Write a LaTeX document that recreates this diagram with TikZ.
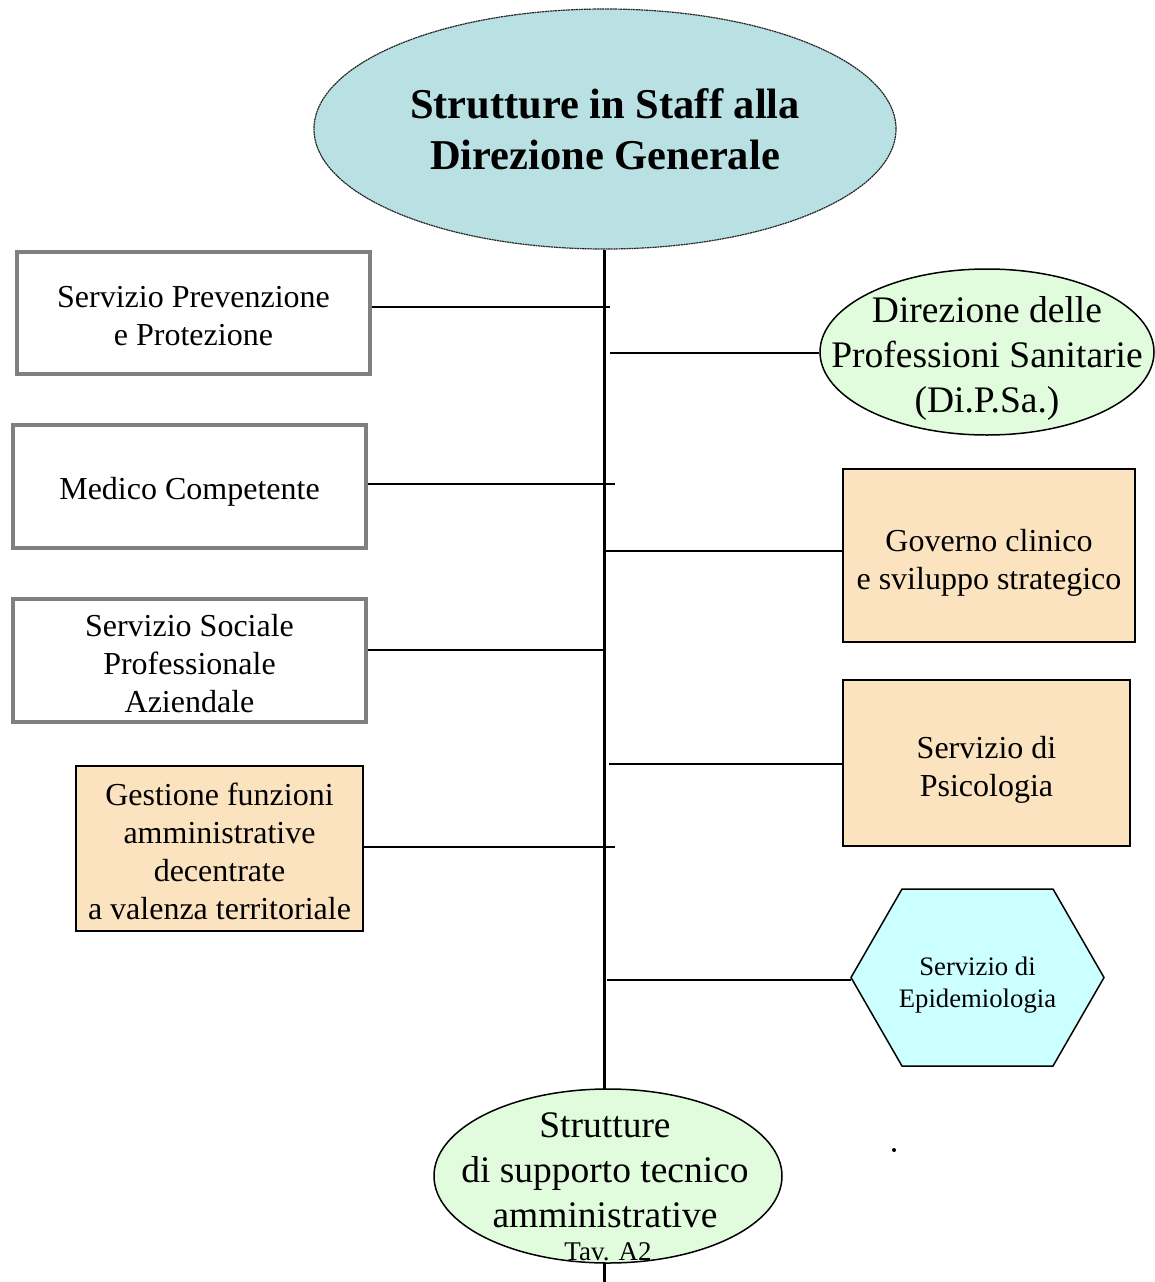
\documentclass[tikz,border=0pt]{standalone}
\usepackage{fontspec}
\setmainfont{Liberation Serif}
\usetikzlibrary{shapes.geometric}
\definecolor{titlefill}{HTML}{B9E0E3}
\definecolor{greenfill}{HTML}{E0FCDC}
\definecolor{peach}{HTML}{FCE3C0}
\definecolor{cyanfill}{HTML}{CCFFFF}
\definecolor{boxgray}{HTML}{808080}
\begin{document}
\begin{tikzpicture}[x=1pt,y=-1pt,
  boxtext/.style={align=center,inner sep=0pt,font=\fontsize{32}{38}\selectfont},
  graybox/.style={draw=boxgray,line width=4pt,fill=white,inner sep=0pt},
  peachbox/.style={draw=black,line width=1.5pt,fill=peach,inner sep=0pt},
  greenell/.style={ellipse,draw=black,line width=1.5pt,fill=greenfill,inner sep=0pt},
  elltext/.style={align=center,inner sep=0pt,font=\fontsize{37.5}{45}\selectfont},
  conn/.style={line width=2pt},
  trunk/.style={line width=3pt}]
\useasboundingbox (0,0) rectangle (1154,1282);
% title
\node[ellipse,draw=black!85,line width=1.2pt,dash pattern=on 2pt off 0.6pt,fill=titlefill,inner sep=0pt,
  minimum width=582pt,minimum height=240pt,
  label={[align=center,inner sep=0pt,font=\fontsize{42.5}{51}\bfseries\selectfont]center:Strutture in Staff alla\\Direzione Generale}]
  (top) at (605,129) {};
\coordinate (tb) at (604,1282);
\draw[trunk] (top.south -| tb) -- (tb);
% left boxes
\node[graybox,minimum width=353pt,minimum height=122pt,
  label={[boxtext,yshift=-3pt]center:Servizio Prevenzione\\e Protezione}] (b1) at (193.5,313) {};
\node[graybox,minimum width=353pt,minimum height=123pt,
  label={[boxtext,yshift=-5pt]center:Medico Competente}] (b2) at (189.5,486.5) {};
\node[graybox,minimum width=353pt,minimum height=123pt,
  label={[boxtext,yshift=-3pt]center:Servizio Sociale\\Professionale\\Aziendale}] (b3) at (189.5,660.5) {};
\node[peachbox,minimum width=287pt,minimum height=165pt,
  label={[boxtext,yshift=-2.5pt]center:Gestione funzioni\\amministrative\\decentrate\\a valenza territoriale}] (b4) at (219.5,848.5) {};
% right nodes
\node[greenell,minimum width=334pt,minimum height=166pt,
  label={[elltext,yshift=-6pt]center:Direzione delle\\Professioni Sanitarie\\(Di.P.Sa.)}] (dipsa) at (987,352) {};
\node[peachbox,minimum width=292pt,minimum height=173pt,
  label={[boxtext,yshift=-7pt]center:Governo clinico\\e sviluppo strategico}] (gov) at (989,555.5) {};
\node[peachbox,minimum width=287pt,minimum height=166pt,
  label={[boxtext,yshift=-7pt]center:Servizio di\\Psicologia}] (psi) at (986.5,763) {};
% hexagon
\coordinate (hexw) at (851,977.5);
\draw[line width=1.5pt,fill=cyanfill] (hexw) -- ++(51,-88.5) -- ++(151,0) -- ++(51,88.5) -- ++(-51,88.5) -- ++(-151,0) -- cycle;
\node[inner sep=0pt,align=center,font=\fontsize{26.7}{32}\selectfont] (epi) at (977.5,985) {Servizio di\\Epidemiologia};
% connectors
\coordinate (c1) at (610,307);
\coordinate (c2) at (615,484);
\coordinate (c3) at (604,650);
\coordinate (c4) at (615,847);
\coordinate (d1) at (610,353);
\coordinate (d2) at (604,551);
\coordinate (d3) at (609,764);
\coordinate (d4) at (607,980);
\draw[conn] (b1.east |- c1) -- (c1);
\draw[conn] (b2.east |- c2) -- (c2);
\draw[conn] (b3.east |- c3) -- (c3);
\draw[conn] (b4.east |- c4) -- (c4);
\draw[conn] (d1) -- (dipsa.west |- d1);
\draw[conn] (d2) -- (gov.west |- d2);
\draw[conn] (d3) -- (psi.west |- d3);
\draw[conn] (d4) -- (hexw |- d4);
% bottom ellipse
\node[greenell,minimum width=348pt,minimum height=174pt] (bot) at (608,1176) {};
\node[elltext] (bottxt) at (605,1170) {Strutture\\di supporto tecnico\\amministrative};
\node[inner sep=0pt,font=\fontsize{27}{30}\selectfont,anchor=base] (tav) at (608,1260) {Tav. A2};
\fill (894,1150) circle (2pt);
\end{tikzpicture}
\end{document}
